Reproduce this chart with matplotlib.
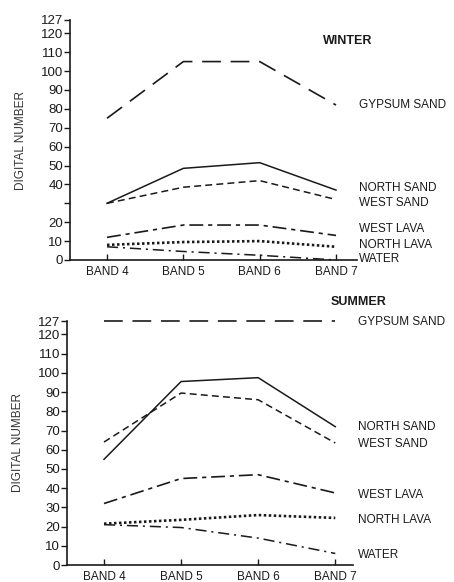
import matplotlib
matplotlib.use("Agg")
import matplotlib.pyplot as plt

plt.rcParams['font.family'] = ['Liberation Sans', 'DejaVu Sans']
plt.rcParams['lines.scale_dashes'] = False

bands = ["BAND 4", "BAND 5", "BAND 6", "BAND 7"]
surfaces = ["GYPSUM SAND", "NORTH SAND", "WEST SAND", "WEST LAVA", "NORTH LAVA", "WATER"]

winter_gypsum = [75, 105, 105, 82]
winter_north_sand = [30, 48.5, 51.5, 37]
winter_west_sand = [30, 38.5, 42, 32]
winter_west_lava = [12, 18.5, 18.5, 13]
winter_north_lava = [8, 9.5, 10, 7]
winter_water = [7, 4.5, 2.5, 0]

summer_gypsum = [127, 127, 127, 127]
summer_north_sand = [55, 95.5, 97.5, 72]
summer_west_sand = [64, 89.5, 86, 63.5]
summer_west_lava = [32, 45, 47, 37.5]
summer_north_lava = [21.5, 23.5, 26, 24.5]
summer_water = [21, 19.5, 14, 6]

winter = [winter_gypsum, winter_north_sand, winter_west_sand,
          winter_west_lava, winter_north_lava, winter_water]
summer = [summer_gypsum, summer_north_sand, summer_west_sand,
          summer_west_lava, summer_north_lava, summer_water]

# layout: vertical positions of the right-hand labels (data units)
winter_label_y = [82, 38, 30, 16.5, 8, 0.5]
summer_label_y = [126.5, 72, 63, 36.5, 23.4, 5.2]

styles = [
    dict(linestyle=(0, (13.5, 7)), lw=1.2),
    dict(linestyle='-', lw=1.1),
    dict(linestyle=(0, (5, 3)), lw=1.1),
    dict(linestyle=(0, (10, 3.5, 3, 3.5)), lw=1.2),
    dict(linestyle=(0, (1.8, 1.8)), lw=1.9),
    dict(linestyle=(0, (8, 3.5, 1.5, 3.5)), lw=1.1),
]

W, H = 454, 582
fig = plt.figure(figsize=(W / 100, H / 100), dpi=100)

def make_ax(left, right, bottom_px, top_px):
    return fig.add_axes([left / W, 1 - bottom_px / H, (right - left) / W,
                         (bottom_px - top_px) / H])

ax1 = make_ax(70, 357, 260, 20)
ax2 = make_ax(67, 353, 565, 321)

x = list(range(len(bands)))

def draw(ax, data, label_y, xlim, title, title_xy, yticklabels):
    for vals, st in zip(data, styles):
        ax.plot(x, vals, color='#1a1a1a', clip_on=False, dash_capstyle='butt', **st)
    ax.set_xlim(*xlim)
    ax.set_ylim(0, 127)
    for s in ['top', 'right']:
        ax.spines[s].set_visible(False)
    for s in ['left', 'bottom']:
        ax.spines[s].set_linewidth(1.2)
        ax.spines[s].set_color('#1a1a1a')
    yt = [0, 10, 20, 30, 40, 50, 60, 70, 80, 90, 100, 110, 120, 127]
    ax.set_yticks(yt)
    ax.set_yticklabels(yticklabels, fontsize=9.5)
    ax.set_xticks(x)
    ax.set_xticklabels(bands, fontsize=8.5)
    ax.tick_params(axis='y', direction='out', length=4, width=1, pad=1, colors='#1a1a1a')
    ax.tick_params(axis='x', direction='in', length=4, width=1, pad=4, colors='#1a1a1a')
    ax.set_ylabel("DIGITAL NUMBER", fontsize=8.5, color='#333333', labelpad=10)
    for name, ly in zip(surfaces, label_y):
        ax.text(3.3, ly, name, fontsize=8.5, va='center', ha='left',
                color='#1a1a1a', clip_on=False)
    ax.text(title_xy[0], title_xy[1], title, fontsize=9, fontweight='bold',
            va='center', ha='left', color='#1a1a1a', clip_on=False)

labels_top = ['0', '10', '20', '', '40', '50', '60', '70', '80', '90', '100', '110', '120', '127']
labels_bot = ['0', '10', '20', '30', '40', '50', '60', '70', '80', '90', '100', '110', '120', '127']

draw(ax1, winter, winter_label_y, (-0.485, 3.275), "WINTER", (2.83, 116), labels_top)
draw(ax2, summer, summer_label_y, (-0.48, 3.23), "SUMMER", (2.94, 137), labels_bot)

fig.savefig("out.png", dpi=100, facecolor='white')
